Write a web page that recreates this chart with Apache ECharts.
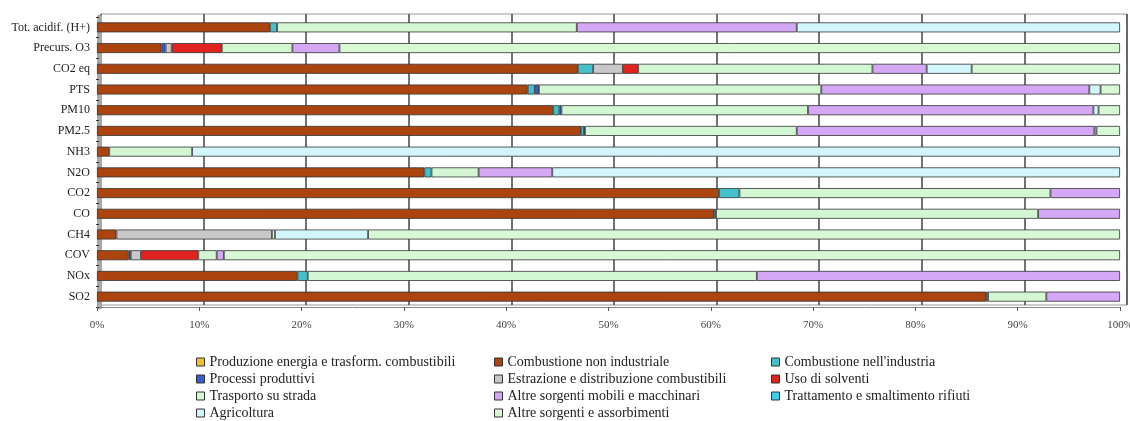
<!DOCTYPE html>
<html>
<head>
<meta charset="utf-8">
<script src="https://cdn.jsdelivr.net/npm/echarts@6/dist/echarts.min.js"></script>
<style>
  html, body { margin: 0; padding: 0; background: #ffffff; }
  #chart { width: 1130px; height: 421px; }
</style>
</head>
<body>
<div id="chart"></div>
<script>
// Pollutants, top to bottom
const categories = ['Tot. acidif. (H+)', 'Precurs. O3', 'CO2 eq', 'PTS', 'PM10', 'PM2.5', 'NH3',
  'N2O', 'CO2', 'CO', 'CH4', 'COV', 'NOx', 'SO2'];

// Share of emissions (%) by source sector, one value per pollutant
const produzioneEnergia   = [0, 0, 0, 0, 0, 0, 0, 0, 0, 0, 0, 0, 0, 0];
const combNonIndustriale  = [16.9, 6.3, 47.0, 42.1, 44.6, 47.3, 1.2, 32.0, 60.8, 60.3, 1.9, 3.1, 19.6, 86.9];
const combIndustria       = [0.7, 0, 1.5, 0.7, 0.6, 0.3, 0, 0.7, 2.0, 0.2, 0, 0, 1.0, 0.2];
const processiProduttivi  = [0, 0.4, 0, 0.4, 0.2, 0.1, 0, 0, 0, 0, 0, 0.2, 0, 0];
const estrazioneDistrib   = [0, 0.6, 2.9, 0, 0, 0, 0, 0, 0, 0, 15.2, 1.0, 0, 0];
const usoSolventi         = [0, 4.9, 1.5, 0, 0, 0, 0, 0, 0, 0, 0, 5.6, 0, 0];
const trasportoStrada     = [29.3, 6.9, 22.9, 27.6, 24.1, 20.7, 8.1, 4.6, 30.4, 31.5, 0.3, 1.8, 43.9, 5.7];
const altreMobili         = [21.5, 4.6, 5.3, 26.2, 27.9, 29.1, 0, 7.2, 6.8, 8.0, 0, 0.7, 35.5, 7.2];
const trattamentoRifiuti  = [0, 0, 0, 0, 0, 0, 0, 0, 0, 0, 0, 0, 0, 0];
const agricoltura         = [31.6, 0, 4.4, 1.1, 0.5, 0.2, 90.7, 55.5, 0, 0, 9.1, 0, 0, 0];
const altreAssorbimenti   = [0, 76.3, 14.5, 1.9, 2.1, 2.3, 0, 0, 0, 0, 73.5, 87.6, 0, 0];

const xTicks = [0, 10, 20, 30, 40, 50, 60, 70, 80, 90, 100];

const sectors = [
  { name: 'Produzione energia e trasform. combustibili', data: produzioneEnergia,  color: '#F2C12E' },
  { name: 'Combustione non industriale',                 data: combNonIndustriale, color: '#AC440F' },
  { name: "Combustione nell'industria",                  data: combIndustria,      color: '#45C1CC' },
  { name: 'Processi produttivi',                         data: processiProduttivi, color: '#3A5BD0' },
  { name: 'Estrazione e distribuzione combustibili',     data: estrazioneDistrib,  color: '#C8C8C8' },
  { name: 'Uso di solventi',                             data: usoSolventi,        color: '#E0231E' },
  { name: 'Trasporto su strada',                         data: trasportoStrada,    color: '#D3F7D3' },
  { name: 'Altre sorgenti mobili e macchinari',          data: altreMobili,        color: '#D4A8F4' },
  { name: 'Trattamento e smaltimento rifiuti',           data: trattamentoRifiuti, color: '#3FCFEA' },
  { name: 'Agricoltura',                                 data: agricoltura,        color: '#D2F6FB' },
  { name: 'Altre sorgenti e assorbimenti',               data: altreAssorbimenti,  color: '#D8F8D6' }
];

const serif = 'Liberation Serif, Times New Roman, serif';

// Legend laid out as three columns of entries, read row by row
const legendColumns = [
  { left: 196, items: [0, 3, 6, 9] },
  { left: 494, items: [1, 4, 7, 10] },
  { left: 771, items: [2, 5, 8] }
];
const legendRowTop = [355, 372, 389, 406];

const legends = [];
legendColumns.forEach(col => {
  col.items.forEach((idx, row) => {
    legends.push({
      orient: 'horizontal', left: col.left, top: legendRowTop[row],
      itemWidth: 8, itemHeight: 8, icon: 'rect', padding: 0,
      textStyle: { fontFamily: serif, fontSize: 14, color: '#222', lineHeight: 14 },
      itemStyle: { borderColor: '#333', borderWidth: 1 },
      data: [sectors[idx].name]
    });
  });
});

const chart = echarts.init(document.getElementById('chart'), null, { renderer: 'canvas' });

chart.setOption({
  animation: false,
  backgroundColor: '#ffffff',
  legend: legends,
  grid: [
    { left: 97, right: 10, top: 17, bottom: 114, outerBoundsMode: 'none', containLabel: false },
    { left: 101, right: 3, top: 14, bottom: 116, outerBoundsMode: 'none', containLabel: false,
      show: true, borderColor: '#999', borderWidth: 1, backgroundColor: 'transparent' }
  ],
  xAxis: [
    {
      type: 'value', gridIndex: 0, min: 0, max: 100, interval: 10,
      axisLine: { show: true, lineStyle: { color: '#888', width: 1 } },
      axisTick: { show: true, length: 4, lineStyle: { color: '#555' } },
      splitLine: { show: false },
      axisLabel: {
        margin: 13, fontFamily: serif, fontSize: 11, color: '#444',
        formatter: v => (xTicks.includes(v) ? v + '%' : '')
      }
    },
    {
      type: 'value', gridIndex: 1, min: 0, max: 100, interval: 10,
      axisLine: { show: false }, axisTick: { show: false }, axisLabel: { show: false },
      splitLine: { show: true, lineStyle: { color: '#505050', width: 1.6 } }
    }
  ],
  yAxis: [
    {
      type: 'category', gridIndex: 0, data: categories, inverse: true, offset: -2,
      axisLine: { show: true, lineStyle: { color: '#a8a8a8', width: 5 } },
      axisTick: { show: true, length: 3, lineStyle: { color: '#333' } },
      axisLabel: { margin: 9, fontFamily: serif, fontSize: 12, color: '#222' }
    },
    {
      type: 'category', gridIndex: 1, data: categories, inverse: true, show: false
    }
  ],
  series: sectors.map(s => ({
    name: s.name,
    type: 'bar',
    stack: 'total',
    xAxisIndex: 0,
    yAxisIndex: 0,
    barWidth: 10,
    data: s.data.map(v => (v === 0 ? null : v)),
    itemStyle: { color: s.color, borderColor: '#333', borderWidth: 0.8 },
    emphasis: { disabled: true }
  })),
  color: sectors.map(s => s.color)
});
</script>
</body>
</html>
